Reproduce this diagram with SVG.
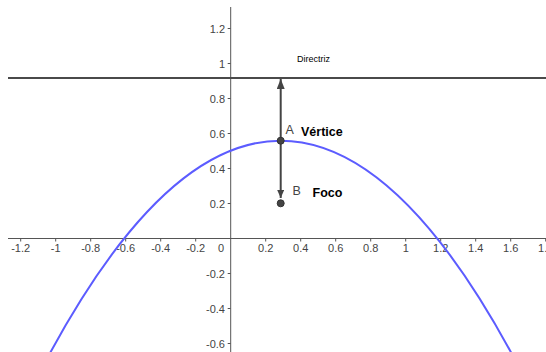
<svg xmlns="http://www.w3.org/2000/svg" width="546" height="352" viewBox="0 0 546 352">
<style>
.ax{stroke:#555;stroke-width:1;fill:none}
.tk{stroke:#555;stroke-width:1}
.tl{font-family:"Liberation Sans",Arial,sans-serif;font-size:11px;fill:#444}
.xl{text-anchor:middle}
.yl{text-anchor:end}
.dir{stroke:#4a4a4a;stroke-width:2;fill:none}
.vec{stroke:#444;stroke-width:2;fill:none}
.pt{fill:#444;stroke:#333;stroke-width:1}
.nm{font-family:"Liberation Sans",Arial,sans-serif;font-size:12.5px;fill:#444}
.cap{font-family:"Liberation Sans",Arial,sans-serif;font-size:12.5px;font-weight:bold;fill:#000}
.sm{font-family:"Liberation Sans",Arial,sans-serif;font-size:9px;fill:#000}
</style>
<defs>
<marker id="ah2" markerWidth="10" markerHeight="8" refX="10" refY="4" orient="auto" markerUnits="userSpaceOnUse" viewBox="0 0 10 8">
<path d="M0,0 L10,4 L0,8 z" fill="#444"/>
</marker>
<marker id="ah3" markerWidth="8" markerHeight="7" refX="8" refY="3.5" orient="auto" markerUnits="userSpaceOnUse" viewBox="0 0 8 7">
<path d="M0,0 L8,3.5 L0,7 z" fill="#444"/>
</marker>
</defs>
<rect width="546" height="352" fill="#fff"/>
<g id="axes">
<line class="ax" x1="8" y1="238.5" x2="546" y2="238.5"/>
<line class="ax" x1="230.7" y1="7" x2="230.7" y2="352"/>
<g class="tk">
<line x1="20.7" y1="238.5" x2="20.7" y2="241.5"/>
<line x1="55.7" y1="238.5" x2="55.7" y2="241.5"/>
<line x1="90.7" y1="238.5" x2="90.7" y2="241.5"/>
<line x1="125.7" y1="238.5" x2="125.7" y2="241.5"/>
<line x1="160.7" y1="238.5" x2="160.7" y2="241.5"/>
<line x1="195.7" y1="238.5" x2="195.7" y2="241.5"/>
<line x1="265.7" y1="238.5" x2="265.7" y2="241.5"/>
<line x1="300.7" y1="238.5" x2="300.7" y2="241.5"/>
<line x1="335.7" y1="238.5" x2="335.7" y2="241.5"/>
<line x1="370.7" y1="238.5" x2="370.7" y2="241.5"/>
<line x1="405.7" y1="238.5" x2="405.7" y2="241.5"/>
<line x1="440.7" y1="238.5" x2="440.7" y2="241.5"/>
<line x1="475.7" y1="238.5" x2="475.7" y2="241.5"/>
<line x1="510.7" y1="238.5" x2="510.7" y2="241.5"/>
<line x1="545.7" y1="238.5" x2="545.7" y2="241.5"/>
<line x1="227.7" y1="28.5" x2="230.7" y2="28.5"/>
<line x1="227.7" y1="63.5" x2="230.7" y2="63.5"/>
<line x1="227.7" y1="98.5" x2="230.7" y2="98.5"/>
<line x1="227.7" y1="133.5" x2="230.7" y2="133.5"/>
<line x1="227.7" y1="168.5" x2="230.7" y2="168.5"/>
<line x1="227.7" y1="203.5" x2="230.7" y2="203.5"/>
<line x1="227.7" y1="273.5" x2="230.7" y2="273.5"/>
<line x1="227.7" y1="308.5" x2="230.7" y2="308.5"/>
<line x1="227.7" y1="343.5" x2="230.7" y2="343.5"/>
</g>
<g class="tl xl">
<text x="20.7" y="252">-1.2</text>
<text x="55.7" y="252">-1</text>
<text x="90.7" y="252">-0.8</text>
<text x="125.7" y="252">-0.6</text>
<text x="160.7" y="252">-0.4</text>
<text x="195.7" y="252">-0.2</text>
<text x="221" y="252">0</text>
<text x="265.7" y="252">0.2</text>
<text x="300.7" y="252">0.4</text>
<text x="335.7" y="252">0.6</text>
<text x="370.7" y="252">0.8</text>
<text x="405.7" y="252">1</text>
<text x="440.7" y="252">1.2</text>
<text x="475.7" y="252">1.4</text>
<text x="510.7" y="252">1.6</text>
<text x="545.7" y="252">1.8</text>
</g>
<g class="tl yl">
<text x="225" y="32.5">1.2</text>
<text x="225" y="67.5">1</text>
<text x="225" y="102.5">0.8</text>
<text x="225" y="137.5">0.6</text>
<text x="225" y="172.5">0.4</text>
<text x="225" y="207.5">0.2</text>
<text x="225" y="277.5">-0.2</text>
<text x="225" y="312.5">-0.4</text>
<text x="225" y="347.5">-0.6</text>
</g>
</g>
<g id="directriz">
<line class="dir" x1="8" y1="78" x2="546" y2="78"/>
<text class="sm" x="297" y="62">Directriz</text>
</g>
<g id="parabola">
<path d="M40.7,370.55 Q280.7,-89.15 520.7,370.55" fill="none" stroke="#5c5cff" stroke-width="2"/>
</g>
<g id="connectors">
<line class="vec" x1="280.7" y1="140.7" x2="280.7" y2="79" marker-end="url(#ah2)"/>
<line class="vec" x1="280.7" y1="140.7" x2="280.7" y2="198" marker-end="url(#ah3)"/>
</g>
<g id="A">
<circle class="pt" cx="280.7" cy="140.7" r="3.5"/>
<text class="nm" x="285.5" y="133.5">A</text>
<text class="cap" x="301" y="136">Vértice</text>
</g>
<g id="B">
<circle class="pt" cx="280.7" cy="203.3" r="3.5"/>
<text class="nm" x="292.5" y="195">B</text>
<text class="cap" x="312.5" y="197">Foco</text>
</g>
</svg>
